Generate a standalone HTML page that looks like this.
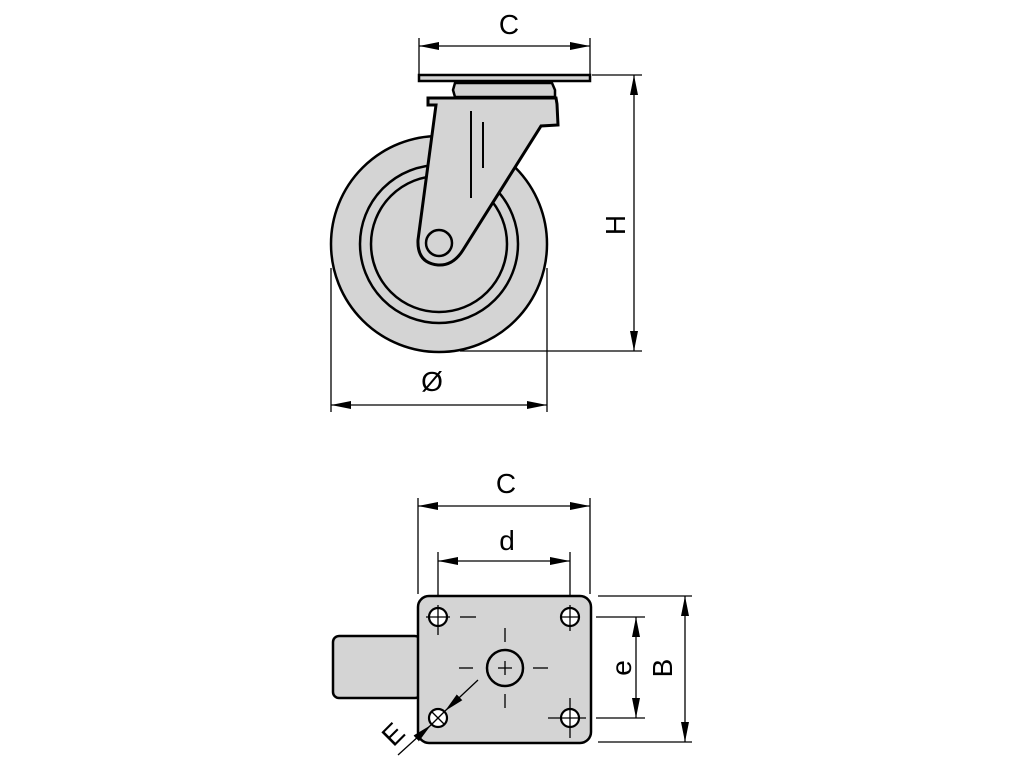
<!DOCTYPE html>
<html><head><meta charset="utf-8"><style>html,body{margin:0;background:#fff}svg{display:block}</style></head>
<body>
<svg width="1024" height="768" viewBox="0 0 1024 768" xmlns="http://www.w3.org/2000/svg">
<defs>
<marker id="a" viewBox="0 0 20 8" refX="20" refY="4" markerWidth="20" markerHeight="8" markerUnits="userSpaceOnUse" orient="auto-start-reverse"><path d="M0,0 L20,4 L0,8 z" fill="#000"/></marker>
</defs>
<g font-family="Liberation Sans, sans-serif" font-size="28" fill="#000">
<!-- TOP VIEW -->
<g stroke="#000" stroke-width="1.3" fill="none">
<line x1="419" y1="38" x2="419" y2="75"/><line x1="590" y1="38" x2="590" y2="75"/>
<line x1="419" y1="46" x2="590" y2="46" marker-start="url(#a)" marker-end="url(#a)"/>
<line x1="592" y1="75" x2="642" y2="75"/><line x1="460" y1="351" x2="642" y2="351"/>
<line x1="634" y1="75" x2="634" y2="351" marker-start="url(#a)" marker-end="url(#a)"/>
<line x1="331" y1="268" x2="331" y2="412"/><line x1="547" y1="268" x2="547" y2="412"/>
<line x1="331" y1="405" x2="547" y2="405" marker-start="url(#a)" marker-end="url(#a)"/>
</g>
<text x="509" y="34" text-anchor="middle">C</text>
<text x="432" y="391" text-anchor="middle">Ø</text>
<text transform="translate(625,225) rotate(-90)" text-anchor="middle">H</text>
<g stroke="#000" stroke-width="2.5" fill="#d4d4d4">
<circle cx="439" cy="244" r="108"/>
<circle cx="439" cy="244" r="79" fill="none"/>
<circle cx="439" cy="244" r="68" fill="none"/>
<rect x="419" y="75" width="171" height="6"/>
<path d="M455,83 L552,83 L555,90 L555,97 L455,97 L453,90 Z"/>
<path d="M428,98 L556,98 L557,104 L558,125 L541,126 L463,250 Q453,266 438,265 Q417,263 418,240 L436,105 L428,105 Z" stroke-width="3"/>
<circle cx="439" cy="243" r="13"/>
</g>
<g stroke="#000" stroke-width="2"><line x1="471" y1="111" x2="471" y2="198"/><line x1="483" y1="122" x2="483" y2="168"/></g>
<!-- BOTTOM VIEW -->
<g stroke="#000" stroke-width="1.3" fill="none">
<line x1="418" y1="498" x2="418" y2="594"/><line x1="590" y1="498" x2="590" y2="594"/>
<line x1="418" y1="506" x2="590" y2="506" marker-start="url(#a)" marker-end="url(#a)"/>
<line x1="438" y1="552" x2="438" y2="600"/><line x1="570" y1="552" x2="570" y2="600"/>
<line x1="438" y1="561" x2="570" y2="561" marker-start="url(#a)" marker-end="url(#a)"/>
<line x1="598" y1="596" x2="692" y2="596"/><line x1="598" y1="742" x2="692" y2="742"/>
<line x1="685" y1="596" x2="685" y2="742" marker-start="url(#a)" marker-end="url(#a)"/>
<line x1="596" y1="617" x2="645" y2="617"/><line x1="596" y1="718" x2="645" y2="718"/>
<line x1="636" y1="617" x2="636" y2="718" marker-start="url(#a)" marker-end="url(#a)"/>
</g>
<text x="506" y="493" text-anchor="middle">C</text>
<text x="507" y="550" text-anchor="middle">d</text>
<text transform="translate(631,668) rotate(-90)" text-anchor="middle">e</text>
<text transform="translate(672,668) rotate(-90)" text-anchor="middle">B</text>
<g stroke="#000" stroke-width="2.5" fill="#d4d4d4">
<rect x="333" y="636" width="88" height="62" rx="6"/>
<rect x="418" y="596" width="173" height="147" rx="11"/>
<circle cx="505" cy="668" r="18"/>
</g>
<g stroke="#000" stroke-width="2.2" fill="#fff">
<circle cx="438" cy="617" r="9"/><circle cx="570" cy="617" r="9"/>
<circle cx="438" cy="718" r="9"/><circle cx="570" cy="718" r="9"/>
</g>
<g stroke="#000" stroke-width="1.3" fill="none">
<line x1="505" y1="628" x2="505" y2="642"/><line x1="505" y1="694" x2="505" y2="708"/>
<line x1="459" y1="668" x2="473" y2="668"/><line x1="533" y1="668" x2="548" y2="668"/>
<line x1="498" y1="668" x2="512" y2="668"/><line x1="505" y1="661" x2="505" y2="675"/>
<line x1="426" y1="617" x2="450" y2="617"/><line x1="438" y1="605" x2="438" y2="635"/><line x1="460" y1="617" x2="476" y2="617"/>
<line x1="560" y1="617" x2="580" y2="617"/><line x1="570" y1="605" x2="570" y2="631"/>
<line x1="548" y1="718" x2="586" y2="718"/><line x1="570" y1="698" x2="570" y2="738"/>
<line x1="431" y1="711" x2="445" y2="725"/><line x1="431" y1="725" x2="445" y2="711"/>
<line x1="478" y1="680" x2="445" y2="711" marker-end="url(#a)"/>
<line x1="398" y1="755" x2="431" y2="725" marker-end="url(#a)"/>
</g>
<text transform="translate(400,741) rotate(-45)" text-anchor="middle">E</text>
</g>
</svg>
</body></html>
